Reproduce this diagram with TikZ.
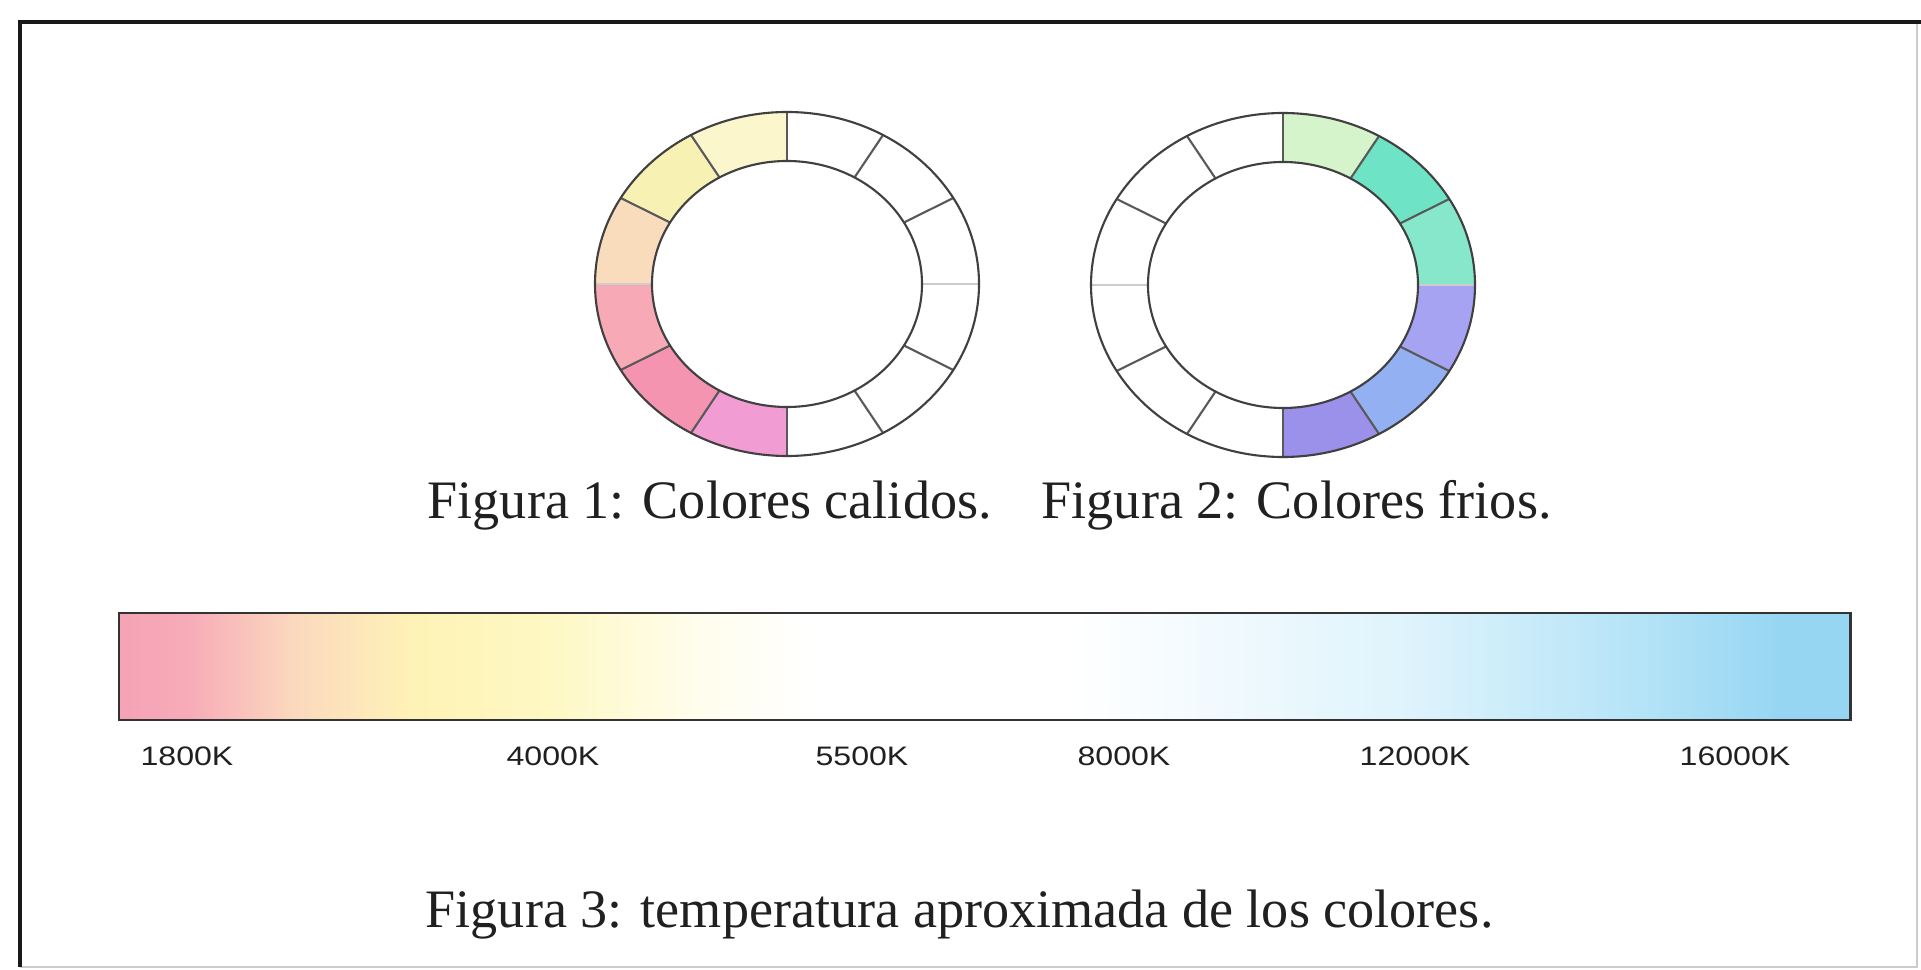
\documentclass[tikz,border=0pt]{standalone}
\usepackage{fontspec}
\setmainfont{Liberation Serif}
\setsansfont{Liberation Sans}
\usepackage{graphicx}
\usepackage{tikz}
\usetikzlibrary{calc,positioning}
\definecolor{warm1}{HTML}{FBF6CC}
\definecolor{warm2}{HTML}{F8F1B4}
\definecolor{warm3}{HTML}{F9DCBC}
\definecolor{warm4}{HTML}{F7A9B6}
\definecolor{warm5}{HTML}{F494B0}
\definecolor{warm6}{HTML}{F29CD4}
\definecolor{cold1}{HTML}{D6F4CC}
\definecolor{cold2}{HTML}{6FE3C6}
\definecolor{cold3}{HTML}{86E7CB}
\definecolor{cold4}{HTML}{A6A4F2}
\definecolor{cold5}{HTML}{93B1F2}
\definecolor{cold6}{HTML}{9B90EA}
\definecolor{bar0}{HTML}{F5A3B6}
\definecolor{bar1}{HTML}{F7ABB8}
\definecolor{bar2}{HTML}{FBD8BE}
\definecolor{bar3}{HTML}{FEF3B6}
\definecolor{bar4}{HTML}{FEF8C4}
\definecolor{bar5}{HTML}{FFFDEB}
\definecolor{bar6}{HTML}{FFFFFF}
\definecolor{bar7}{HTML}{F2FAFE}
\definecolor{bar8}{HTML}{DDF3FC}
\definecolor{bar9}{HTML}{B4E3F7}
\definecolor{bar10}{HTML}{96D6F2}
\definecolor{ink}{HTML}{202020}

\begin{document}
\begin{tikzpicture}[x=0.01cm,y=0.01cm,
    ring/.style={draw=black!75,line width=0.6pt},
    divider/.style={draw=black!65,line width=0.6pt},
    faint/.style={draw=black!20,line width=0.6pt},
    caption/.style={anchor=base west,inner sep=0pt,text=ink,font=\fontsize{15.4}{18}\selectfont},
    tick/.style={inner sep=0pt,text=ink,font=\sffamily\fontsize{7.6}{9}\selectfont}
]
\useasboundingbox (0,0) rectangle (1921,969);
\fill[white] (0,0) rectangle (1921,969);
\draw[black!20,line width=0.5pt] (1917,947) -- (1917,2) -- (20,2);
\draw[black!90,line width=1.2pt] (20,2) -- (20,947) -- (1921,947);

\coordinate (W1) at (787,685);
\coordinate (W2) at (1283,684);
\foreach \c/\a/\col [evaluate=\a as \b using \a+30] in {W1/90/warm1,W1/120/warm2,W1/150/warm3,W1/180/warm4,W1/210/warm5,W1/240/warm6,
    W2/60/cold1,W2/30/cold2,W2/0/cold3,W2/-30/cold4,W2/-60/cold5,W2/-90/cold6}
  \fill[\col] ($(\c)+(\a:192 and 172)$) arc[start angle=\a,end angle=\b,x radius=192,y radius=172]
    -- ($(\c)+(\b:135 and 123)$) arc[start angle=\b,end angle=\a,x radius=135,y radius=123] -- cycle;
\foreach \c in {W1,W2}{
  \foreach \a in {30,60,...,150,210,240,...,330}
    \draw[divider] ($(\c)+(\a:135 and 123)$) -- ($(\c)+(\a:192 and 172)$);
  \foreach \a in {0,180}
    \draw[faint] ($(\c)+(\a:135 and 123)$) -- ($(\c)+(\a:192 and 172)$);
  \draw[ring] (\c) ellipse[x radius=192,y radius=172];
  \draw[ring] (\c) ellipse[x radius=135,y radius=123];
}

\node[caption] (cap1) at (427,451) {Figura 1: Colores calidos.};
\node[caption] (cap2) at (1041,451) {Figura 2: Colores frios.};

\foreach \xa/\ca/\xb/\cb in {119/bar0/188/bar1,188/bar1/292/bar2,292/bar2/413/bar3,413/bar3/552/bar4,552/bar4/690/bar5,
    690/bar5/811/bar6,811/bar6/1071/bar6,1071/bar6/1210/bar7,1210/bar7/1417/bar8,1417/bar8/1642/bar9,1642/bar9/1781/bar10,1781/bar10/1850/bar10}
  \shade[left color=\ca,right color=\cb] (\xa,249) rectangle (\xb+1,356);
\draw[black!80,line width=0.85pt] (119,249) rectangle (1850,356);

\foreach \x/\t in {187/1800K,553/4000K,862/5500K,1124/8000K,1415/12000K,1735/16000K}
  \node[tick] (k\t) at (\x,213) {\scalebox{1.2}[1]{\t}};

\node[caption] (cap3) at (425,42) {Figura 3: temperatura aproximada de los colores.};
\end{tikzpicture}
\end{document}
